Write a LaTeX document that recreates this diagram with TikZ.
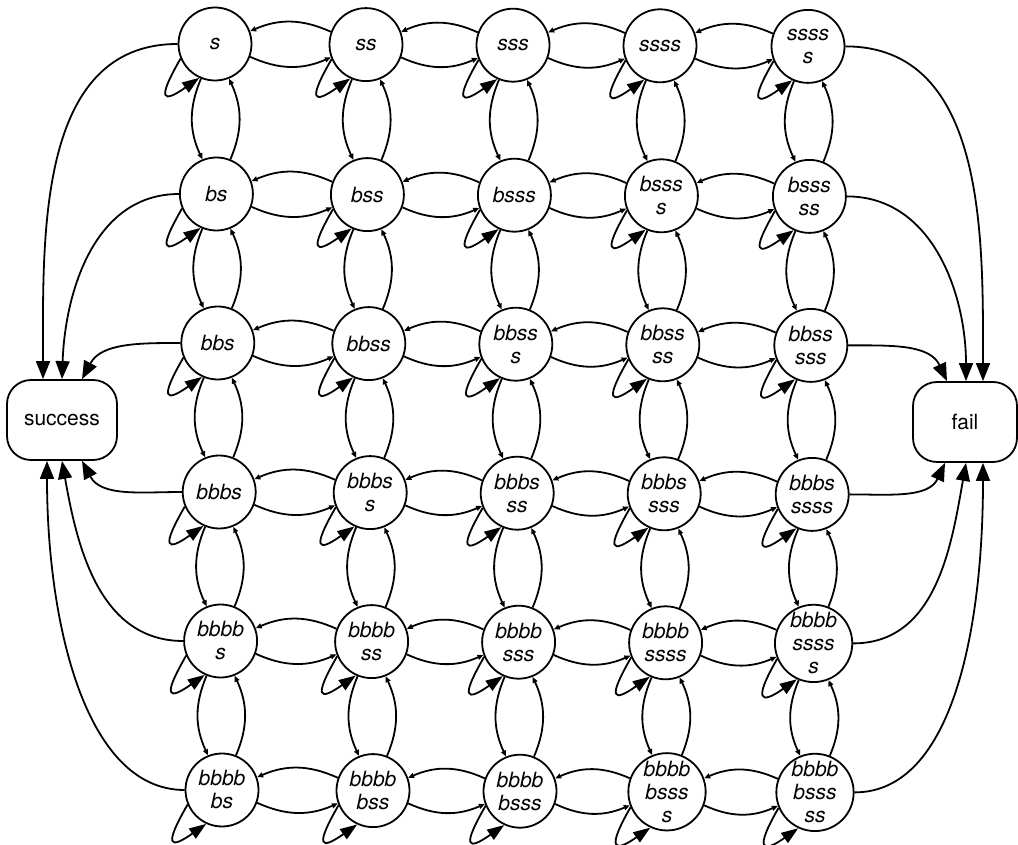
\documentclass[tikz,border=0pt]{standalone}
\usepackage{fontspec}
\setmainfont{TeX Gyre Heros}
\usetikzlibrary{arrows.meta}
\tikzset{
  state/.style={circle, draw, line width=1.8pt, minimum size=73pt, inner sep=0pt,
    align=center, font=\fontsize{21}{23}\selectfont\itshape},
  outcome/.style={draw, line width=1.8pt, rounded corners=24pt, minimum height=80pt,
    inner sep=0pt, font=\fontsize{21}{24}\selectfont},
  link/.style={line width=1.8pt, -{Triangle[length=6pt,width=5pt]}, bend right=24},
  selfloop/.style={line width=1.8pt, -{Triangle[length=17pt,width=12pt]}},
  exit/.style={line width=1.8pt, -{Triangle[length=18pt,width=14pt]}},
}
\begin{document}
\begin{tikzpicture}[x=1pt,y=1pt]
\useasboundingbox (0,0) rectangle (1018,844);

% grid positions of the states (row r, column c)
\foreach \r/\yy in {1/800,2/650,3/501,4/352,5/203,6/54} {
  \foreach \c/\xx in {1/215,2/366,3/513,4/660,5/808} {
    \coordinate (p-\r-\c) at ({\xx+1.4*(\r-1)},{\yy-0.6*(\c-1)});
  }
}

% states
\node[state] (n-1-1) at (p-1-1) {s};
\node[state] (n-1-2) at (p-1-2) {ss};
\node[state] (n-1-3) at (p-1-3) {sss};
\node[state] (n-1-4) at (p-1-4) {ssss};
\node[state] (n-1-5) at (p-1-5) {ssss\\s};

\node[state] (n-2-1) at (p-2-1) {bs};
\node[state] (n-2-2) at (p-2-2) {bss};
\node[state] (n-2-3) at (p-2-3) {bsss};
\node[state] (n-2-4) at (p-2-4) {bsss\\s};
\node[state] (n-2-5) at (p-2-5) {bsss\\ss};

\node[state] (n-3-1) at (p-3-1) {bbs};
\node[state] (n-3-2) at (p-3-2) {bbss};
\node[state] (n-3-3) at (p-3-3) {bbss\\s};
\node[state] (n-3-4) at (p-3-4) {bbss\\ss};
\node[state] (n-3-5) at (p-3-5) {bbss\\sss};

\node[state] (n-4-1) at (p-4-1) {bbbs};
\node[state] (n-4-2) at (p-4-2) {bbbs\\s};
\node[state] (n-4-3) at (p-4-3) {bbbs\\ss};
\node[state] (n-4-4) at (p-4-4) {bbbs\\sss};
\node[state] (n-4-5) at (p-4-5) {bbbs\\ssss};

\node[state] (n-5-1) at (p-5-1) {bbbb\\s};
\node[state] (n-5-2) at (p-5-2) {bbbb\\ss};
\node[state] (n-5-3) at (p-5-3) {bbbb\\sss};
\node[state] (n-5-4) at (p-5-4) {bbbb\\ssss};
\node[state] (n-5-5) at (p-5-5) {bbbb\\ssss\\s};

\node[state] (n-6-1) at (p-6-1) {bbbb\\bs};
\node[state] (n-6-2) at (p-6-2) {bbbb\\bss};
\node[state] (n-6-3) at (p-6-3) {bbbb\\bsss};
\node[state] (n-6-4) at (p-6-4) {bbbb\\bsss\\s};
\node[state] (n-6-5) at (p-6-5) {bbbb\\bsss\\ss};

% terminal outcomes
\node[outcome, minimum width=110pt] (success) at (62,424) {success};
\node[outcome, minimum width=104pt] (fail) at (965,422) {fail};

% horizontal transitions
\foreach \r in {1,...,6} {
  \foreach \c [evaluate=\c as \d using int(\c+1)] in {1,...,4} {
    \draw[link] (n-\r-\d.160) to (n-\r-\c.20);
    \draw[link] (n-\r-\c.-20) to (n-\r-\d.-160);
  }
}

% vertical transitions
\foreach \c in {1,...,5} {
  \foreach \r [evaluate=\r as \d using int(\r+1)] in {1,...,5} {
    \draw[link] (n-\r-\c.-112) to (n-\d-\c.112);
    \draw[link] (n-\d-\c.68) to (n-\r-\c.-68);
  }
}

% self loops
\foreach \r in {1,...,6} {
  \foreach \c in {1,...,5} {
    \draw[selfloop] (n-\r-\c.-157) .. controls +(-120:48pt) and +(-145:45pt) .. (n-\r-\c.-115);
  }
}

% transitions to success
\draw[exit] (n-1-1.west) to[out=180,in=90] ([xshift=-19pt]success.north);
\draw[exit] (n-2-1.west) to[out=180,in=88] (success.north);
\draw[exit] (n-3-1.west) to[out=180,in=62] ([xshift=20pt]success.north);
\draw[exit] (n-4-1.west) to[out=180,in=-62] ([xshift=20pt]success.south);
\draw[exit] (n-5-1.west) to[out=180,in=-80] (success.south);
\draw[exit] (n-6-1.west) .. controls +(-100pt,0pt) and +(0pt,-160pt) .. ([xshift=-15pt]success.south);

% transitions to fail
\draw[exit] (n-1-5.east) to[out=0,in=90] ([xshift=18pt]fail.north);
\draw[exit] (n-2-5.east) to[out=0,in=90] ([xshift=1pt]fail.north);
\draw[exit] (n-3-5.east) to[out=0,in=115] ([xshift=-18pt]fail.north);
\draw[exit] (n-4-5.east) to[out=0,in=-115] ([xshift=-20pt]fail.south);
\draw[exit] (n-5-5.east) to[out=0,in=-100] ([xshift=1pt]fail.south);
\draw[exit] (n-6-5.east) .. controls +(100pt,0pt) and +(0pt,-160pt) .. ([xshift=18pt]fail.south);
\end{tikzpicture}
\end{document}
